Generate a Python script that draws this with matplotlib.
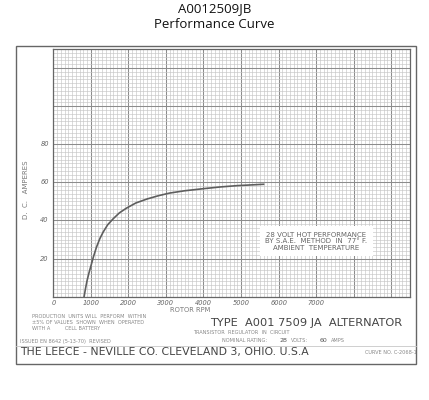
import matplotlib
matplotlib.use("Agg")
import matplotlib.pyplot as plt
from matplotlib.patches import Rectangle
from matplotlib.ticker import MultipleLocator

# ---- data ----
rpm = [820, 860, 900, 950, 1000, 1070, 1150, 1240, 1330, 1450, 1600, 1760, 1950,
       2200, 2500, 2800, 3100, 3500, 4000, 4450, 4900, 5300, 5600]
amps = [0, 4.5, 8.5, 12.5, 16, 21, 26, 30.5, 34, 37.8, 41, 44, 46.5,
        49.2, 51.3, 53, 54.4, 55.6, 56.7, 57.6, 58.3, 58.7, 59]
x_tick_values = [0, 1000, 2000, 3000, 4000, 5000, 6000, 7000]
x_tick_labels = ["0", "1000", "2000", "3000", "4000", "5000", "6000", "7000"]
y_tick_values = [20, 40, 60, 80]
y_tick_labels = ["20", "40", "60", "80"]

W, H = 429, 400
fig = plt.figure(figsize=(W / 100, H / 100), dpi=100)
fig.patch.set_facecolor("white")

def fx(px):
    return px / W

def fy(py):
    return 1 - py / H

# outer frame
fig.add_artist(Rectangle((fx(16), fy(364)), fx(416) - fx(16), fy(46) - fy(364),
                         transform=fig.transFigure, fill=False, edgecolor="#666666", lw=1.0))
fig.add_artist(plt.Line2D([fx(16), fx(416)], [fy(346), fy(346)], transform=fig.transFigure,
                          color="#c8c8c8", lw=0.6))

# axes
left, right, top, bottom = 53.3, 410, 49, 296.7
ax = fig.add_axes([fx(left), fy(bottom), fx(right) - fx(left), fy(top) - fy(bottom)])
ax.set_xlim(0, 9500)
ax.set_ylim(0, 130)
ax.xaxis.set_major_locator(MultipleLocator(1000))
ax.xaxis.set_minor_locator(MultipleLocator(100))
ax.yaxis.set_major_locator(MultipleLocator(20))
ax.yaxis.set_minor_locator(MultipleLocator(2))
ax.grid(which="minor", color="#c6c6c6", lw=0.45)
ax.grid(which="major", color="#8c8c8c", lw=0.75)
ax.set_axisbelow(True)
ax.tick_params(which="both", length=0)
ax.set_xticklabels([])
ax.set_yticklabels([])
for s in ax.spines.values():
    s.set_color("#666666")
    s.set_linewidth(0.9)

ax.plot(rpm, amps, color="#5e5e5e", lw=1.2)

# tick labels
for v, lab in zip(x_tick_values, x_tick_labels):
    ax.text(v, -1.5, lab, ha="center", va="top", fontsize=4.8, style="italic", color="#666666")
for v, lab in zip(y_tick_values, y_tick_labels):
    ax.text(-120, v, lab, ha="right", va="center", fontsize=4.8, style="italic", color="#666666")

fig.text(fx(190), fy(310), "ROTOR RPM", ha="center", va="center", fontsize=4.8, color="#777777")
fig.text(fx(26), fy(190), "D.  C.   AMPERES", ha="center", va="center", rotation=90,
         fontsize=5, color="#777777")

# annotation box
ax.text(7000, 29, "28 VOLT HOT PERFORMANCE\nBY S.A.E.  METHOD  IN  77° F.\nAMBIENT  TEMPERATURE",
        ha="center", va="center", fontsize=5, color="#666666", linespacing=1.1,
        bbox=dict(facecolor="white", edgecolor="none", pad=4))

# titles
fig.text(0.5, fy(9), "A0012509JB", ha="center", va="center", fontsize=9.5, color="#111111",
         family="Open Sans")
fig.text(0.5, fy(25), "Performance Curve", ha="center", va="center", fontsize=9.5,
         color="#111111", family="Open Sans")

# footer texts
small = dict(fontsize=3.6, color="#888888", va="center", ha="left")
fig.text(fx(32), fy(317), "PRODUCTION  UNITS WILL  PERFORM  WITHIN", **small)
fig.text(fx(32), fy(323), "±5% OF VALUES  SHOWN  WHEN  OPERATED", **small)
fig.text(fx(32), fy(329), "WITH A         CELL BATTERY", **small)
fig.text(fx(20), fy(341), "ISSUED EN 8642 (5-13-70)  REVISED", **small)
fig.text(fx(210), fy(323), "TYPE  A001 7509 JA  ALTERNATOR", fontsize=8.2, color="#444444",
         va="center", ha="left")
fig.text(fx(193), fy(333), "TRANSISTOR  REGULATOR  IN  CIRCUIT", **small)
fig.text(fx(222), fy(341), "NOMINAL RATING:", **small)
fig.text(fx(280), fy(341), "28", fontsize=4.5, color="#555555", va="center", ha="left")
fig.text(fx(291), fy(341), "VOLTS:", **small)
fig.text(fx(320), fy(341), "60", fontsize=4.5, color="#555555", va="center", ha="left")
fig.text(fx(331), fy(341), "AMPS", **small)
fig.text(fx(20), fy(352), "THE LEECE - NEVILLE CO. CLEVELAND 3, OHIO. U.S.A", fontsize=7.8,
         color="#444444", va="center", ha="left")
fig.text(fx(365), fy(352), "CURVE NO. C-2068-1", **small)

fig.savefig("out.png", dpi=100)
